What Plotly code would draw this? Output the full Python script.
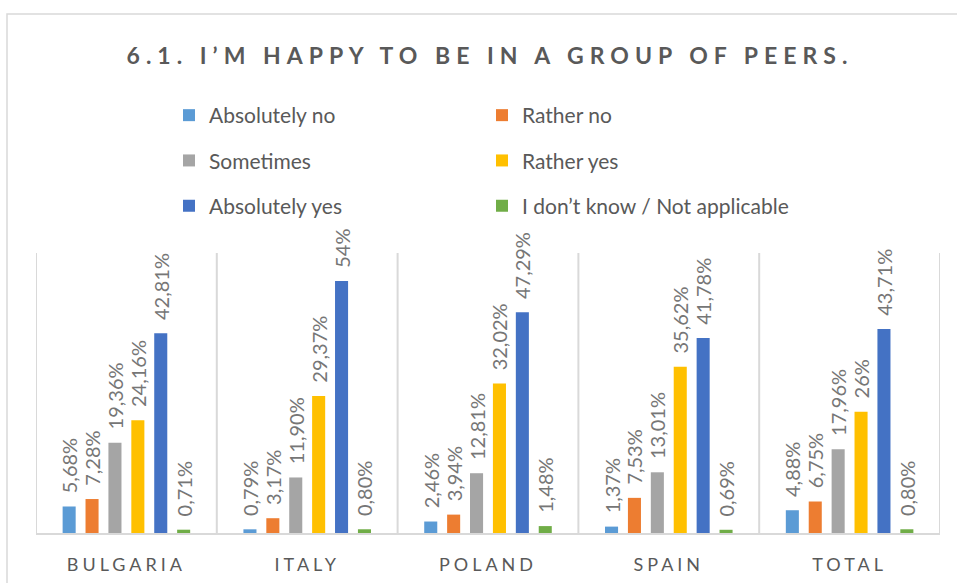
import plotly.graph_objects as go

categories = ["BULGARIA", "ITALY", "POLAND", "SPAIN", "TOTAL"]
series_names = ["Absolutely no", "Rather no", "Sometimes", "Rather yes",
                "Absolutely yes", "I don’t know / Not applicable"]
absolutely_no = [5.68, 0.79, 2.46, 1.37, 4.88]
rather_no = [7.28, 3.17, 3.94, 7.53, 6.75]
sometimes = [19.36, 11.90, 12.81, 13.01, 17.96]
rather_yes = [24.16, 29.37, 32.02, 35.62, 26.00]
absolutely_yes = [42.81, 54.00, 47.29, 41.78, 43.71]
dont_know = [0.71, 0.80, 1.48, 0.69, 0.80]
series_values = [absolutely_no, rather_no, sometimes, rather_yes, absolutely_yes, dont_know]
colors = ["#5B9BD5", "#ED7D31", "#A5A5A5", "#FFC000", "#4472C4", "#70AD47"]
legend_ids = ["legend", "legend2", "legend", "legend2", "legend", "legend2"]

W, H = 957, 583
ML, MR, MT, MB = 36, 17, 253, 50
PW, PH = W - ML - MR, H - MT - MB


def fmt(v):
    if abs(v - round(v)) < 1e-9:
        return f"{int(round(v))}%"
    return f"{v:.2f}".replace(".", ",") + "%"


def px_to_paper_x(px):
    return (px - ML) / PW


def px_to_paper_y(py):
    return (H - MB - py) / PH


fig = go.Figure()
for name, vals, col, lg in zip(series_names, series_values, colors, legend_ids):
    fig.add_trace(go.Bar(
        name=name, x=categories, y=vals, marker_color=col, marker_line_width=0,
        text=["\u00a0\u00a0" + fmt(v) for v in vals],
        textposition="outside", textangle=-90, constraintext="none",
        cliponaxis=False,
        textfont=dict(family="Lato, Open Sans, sans-serif", size=20, color="#767676"),
        legend=lg, legendgroup=name, hoverinfo="skip",
    ))

# category separators
shapes = []
for i in range(len(categories) + 1):
    shapes.append(dict(type="line", xref="x", yref="y", x0=i - 0.5, x1=i - 0.5,
                       y0=0, y1=60, line=dict(color="#D9D9D9", width=2), layer="below"))
# outer frame
shapes.append(dict(type="rect", xref="paper", yref="paper",
                   x0=px_to_paper_x(7), x1=px_to_paper_x(975),
                   y0=px_to_paper_y(600), y1=px_to_paper_y(14),
                   line=dict(color="#D9D9D9", width=1.5), fillcolor="rgba(0,0,0,0)"))

legend_common = dict(
    orientation="v", xanchor="left", yanchor="top",
    font=dict(family="Lato, Open Sans, sans-serif", size=21, color="#595959"),
    tracegroupgap=15, bgcolor="rgba(0,0,0,0)", itemclick=False,
)

fig.update_layout(
    width=W, height=H,
    margin=dict(l=ML, r=MR, t=MT, b=MB, autoexpand=False),
    paper_bgcolor="white", plot_bgcolor="white",
    barmode="group", bargap=0.24, bargroupgap=0.43,
    title=dict(text="6.1. I’M HAPPY TO BE IN A GROUP OF PEERS.",
               x=0.512, xanchor="center", y=1 - 56 / H, yanchor="middle",
               font=dict(family="Lato, Open Sans, sans-serif", size=23,
                         color="#595959", weight="bold")),
    xaxis=dict(range=[-0.5, len(categories) - 0.5], showgrid=False,
               showline=True, linecolor="#D9D9D9", linewidth=2,
               ticks="", ticklabelstandoff=14, automargin=False,
               tickfont=dict(family="Lato, Open Sans, sans-serif",
                             size=18, color="#595959"),
               fixedrange=True),
    yaxis=dict(range=[0, 60], showgrid=False, showticklabels=False,
               zeroline=False, showline=False, fixedrange=True, automargin=False),
    shapes=shapes,
    legend=dict(x=px_to_paper_x(169), y=px_to_paper_y(95), **legend_common),
    legend2=dict(x=px_to_paper_x(482), y=px_to_paper_y(95), **legend_common),
    showlegend=True,
)

post = """
document.body.style.margin = '0';
document.body.style.padding = '0';
var gd = document.getElementsByClassName('plotly-graph-div')[0];
function spacing(){
  gd.querySelectorAll('.gtitle').forEach(function(t){t.style.letterSpacing='6px';});
  gd.querySelectorAll('.xtick text').forEach(function(t){t.style.letterSpacing='4px';});
}
spacing();
gd.on('plotly_afterplot', spacing);
"""

fig.write_html("out.html", post_script=post, config={"displayModeBar": False})
